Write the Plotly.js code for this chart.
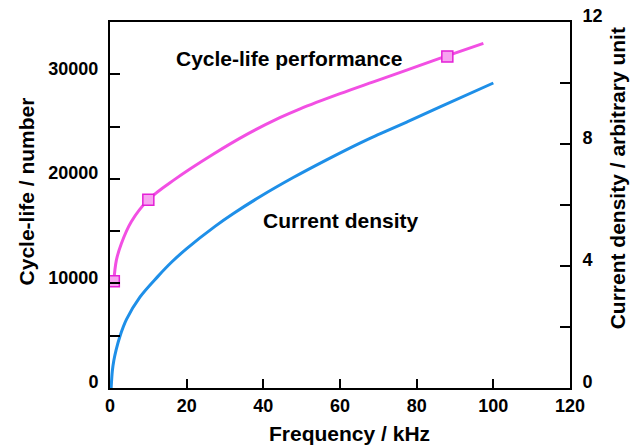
<!DOCTYPE html>
<html>
<head>
<meta charset="utf-8">
<script src="https://cdn.plot.ly/plotly-3.0.1.min.js"></script>
<style>html,body{margin:0;padding:0;background:#fff;}#chart{width:637px;height:446px;}</style>
</head>
<body>
<div id="chart"></div>
<script>
// Cycle-life curve (left axis)
const cycleFreq = [1, 1.65, 2.95, 5.55, 10, 16.9, 26.9, 35.7, 44.3, 49.6, 60, 68.7, 77.4, 86, 97.4];
const cycleLife = [10200, 12200, 13800, 15900, 18000, 19950, 22350, 24250, 25850, 26700, 28150, 29280, 30400, 31520, 32950];
// Measured cycle-life points (square markers)
const markerFreq = [1, 10, 88];
const markerLife = [10200, 18000, 31700];
// Current density curve (right axis)
const densFreq = [0.3, 0.6, 1.0, 1.6, 2.6, 4.3, 7.8, 12.5, 16.1, 20.0, 27.4, 32.2, 39.1, 47.8, 56.5, 65.2, 70.4, 77.4, 86.1, 100];
const density  = [0, 0.55, 0.9, 1.25, 1.7, 2.25, 2.98, 3.66, 4.13, 4.57, 5.30, 5.72, 6.27, 6.90, 7.48, 8.03, 8.33, 8.72, 9.22, 10.0];

const xTicks = [0, 20, 40, 60, 80, 100, 120];
const leftTicks = [0, 10000, 20000, 30000];
const rightTicks = [0, 4, 8, 12];

const FONT = "Liberation Sans, Arial, Helvetica, sans-serif";
const PINK = "#f24fe3";
const BLUE = "#1e8fe8";

const traces = [
  {x: cycleFreq, y: cycleLife, type: "scatter", mode: "lines",
   line: {color: PINK, width: 3, shape: "spline", smoothing: 1}, showlegend: false},
  {x: markerFreq, y: markerLife, type: "scatter", mode: "markers",
   marker: {symbol: "square", size: 11, color: "#f7a3f0", line: {color: "#e41fd6", width: 1.5}}, showlegend: false},
  {x: densFreq, y: density, type: "scatter", mode: "lines", yaxis: "y2",
   line: {color: BLUE, width: 3, shape: "spline", smoothing: 1}, showlegend: false}
];

const axisCommon = {
  showgrid: false, zeroline: false, showline: true, linecolor: "#000", linewidth: 2,
  ticks: "inside", tickcolor: "#000", tickwidth: 2,
  tickfont: {family: FONT, size: 18, color: "#000", weight: "bold"}
};
const titleFont = {family: FONT, size: 21, color: "#000", weight: "bold"};

const layout = {
  width: 637, height: 446,
  margin: {l: 110, r: 67, t: 22, b: 58},
  paper_bgcolor: "#fff", plot_bgcolor: "#fff",
  font: {family: FONT, color: "#000"},
  xaxis: Object.assign({}, axisCommon, {
    range: [0, 120], tickvals: xTicks, ticktext: xTicks.map(String), ticklen: 9,
    mirror: true, ticklabelstandoff: 0
  }),
  yaxis: Object.assign({}, axisCommon, {
    range: [0, 35000], tickvals: leftTicks, ticktext: leftTicks.map(String), ticklen: 10,
    minor: {tickvals: [5000, 15000, 25000], ticks: "inside", ticklen: 10, tickwidth: 2, tickcolor: "#000"},
    ticklabelstandoff: 6, ticklabelshift: -6
  }),
  yaxis2: Object.assign({}, axisCommon, {
    overlaying: "y", side: "right", anchor: "x",
    range: [0, 12], tickvals: rightTicks, ticktext: rightTicks.map(String), ticklen: 10,
    minor: {tickvals: [2, 6, 10], ticks: "inside", ticklen: 10, tickwidth: 2, tickcolor: "#000"},
    ticklabelstandoff: 7, ticklabelshift: -6
  }),
  annotations: [
    {text: "Cycle-life performance", x: 46.7, y: 31500, xref: "x", yref: "y", showarrow: false, font: titleFont},
    {text: "Current density", x: 60.3, y: 16030, xref: "x", yref: "y", showarrow: false, font: titleFont},
    {text: "Frequency / kHz", x: 0.5217, y: -0.1238, xref: "paper", yref: "paper", xanchor: "center", yanchor: "middle", showarrow: false, font: titleFont},
    {text: "Cycle-life / number", x: -0.1826, y: 0.537, xref: "paper", yref: "paper", xanchor: "center", yanchor: "middle", textangle: -90, showarrow: false, font: titleFont},
    {text: "Current density / arbitrary unit", x: 1.1033, y: 0.5716, xref: "paper", yref: "paper", xanchor: "center", yanchor: "middle", textangle: -90, showarrow: false, font: titleFont}
  ]
};

Plotly.newPlot("chart", traces, layout, {displayModeBar: false, staticPlot: true});
</script>
</body>
</html>
